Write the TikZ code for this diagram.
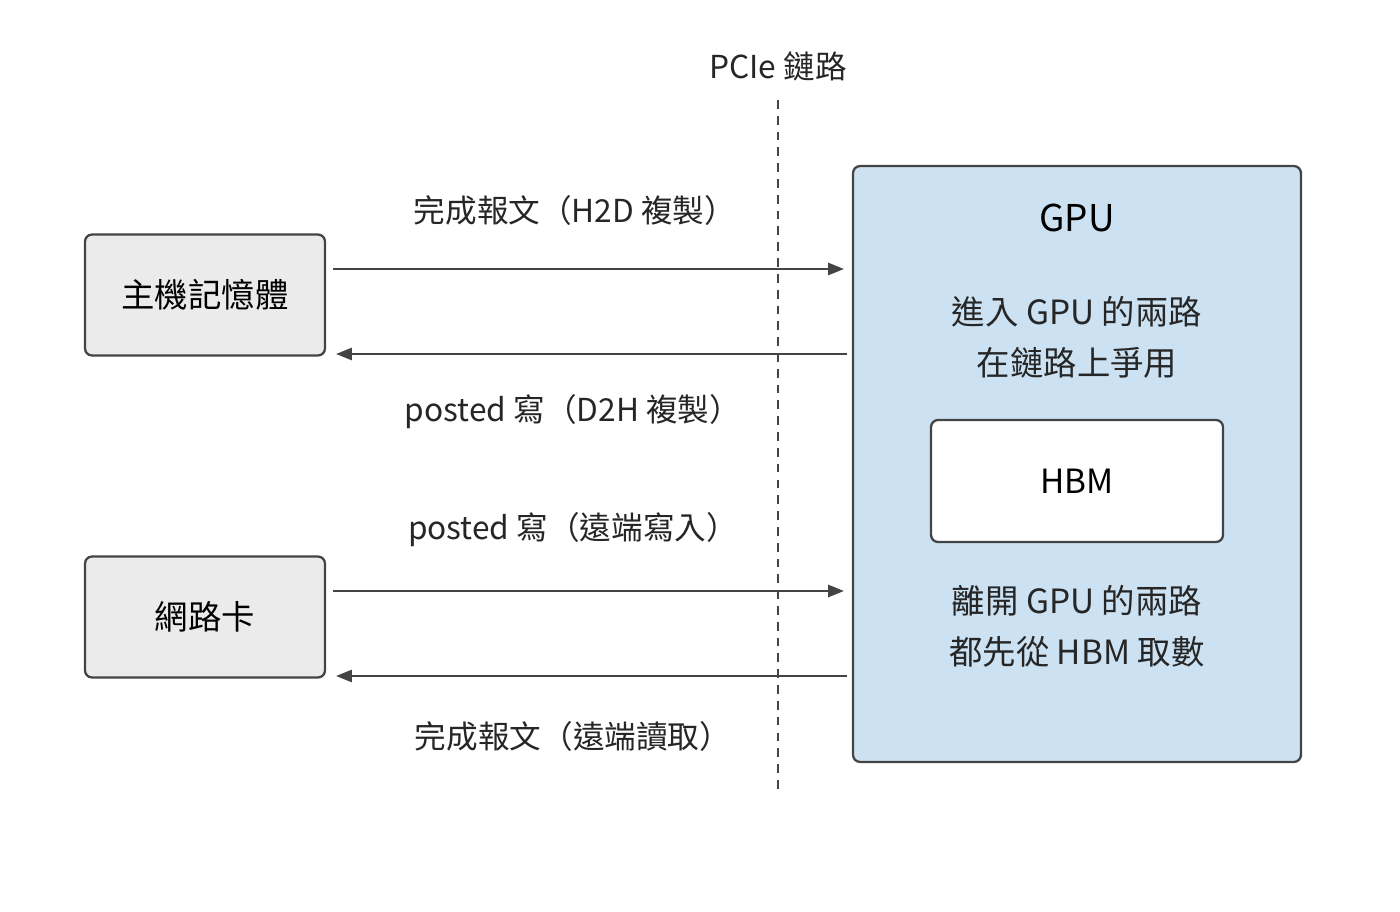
\documentclass[tikz,border=0pt]{standalone}
\usepackage{fontspec}
\setmainfont{Noto Sans CJK TC}
\usetikzlibrary{arrows.meta}
\definecolor{gpuf}{HTML}{CCE2F2}
\definecolor{boxf}{HTML}{EBEBEB}
\definecolor{ln}{HTML}{444444}
\begin{document}
\begin{tikzpicture}[x=0.02cm,y=-0.02cm,
  box/.style={draw=ln,line width=1.3pt,rounded corners=4pt,inner sep=0pt,font=\fontsize{19}{23}\selectfont},
  arr/.style={draw=ln,line width=1.1pt,-{Triangle[length=9pt,width=7pt]}},
  lbl/.style={font=\fontsize{18}{22}\selectfont,text=black!85}]
\useasboundingbox (0,0) rectangle (1400,912);
\node[lbl] (pcie) at (778,66) {PCIe 鏈路};
\coordinate (dtop) at (778,100);
\coordinate (dbot) at (778,795);
\draw[ln,dashed,line width=1.1pt,dash pattern=on 5pt off 4pt] (dtop) -- (dbot);
\node[box,fill=boxf,minimum width=4.8cm,minimum height=2.42cm] (host) at (205,295) {主機記憶體};
\node[box,fill=boxf,minimum width=4.8cm,minimum height=2.42cm] (nic) at (205,617) {網路卡};
\node[box,fill=gpuf,minimum width=8.96cm,minimum height=11.92cm] (gpu) at (1077,464) {};
\node[font=\fontsize{21}{25}\selectfont] (gt) at (1077,218) {GPU};
\node[lbl,align=center,font=\fontsize{19}{29}\selectfont] (gin) at (1077,337) {進入 GPU 的兩路\\在鏈路上爭用};
\node[box,fill=white,minimum width=5.84cm,minimum height=2.44cm] (hbm) at (1077,481) {HBM};
\node[lbl,align=center,font=\fontsize{19}{29}\selectfont] (gout) at (1077,626) {離開 GPU 的兩路\\都先從 HBM 取數};
\coordinate (g1) at (gpu.west |- 0,269);
\coordinate (g2) at (gpu.west |- 0,354);
\coordinate (g3) at (gpu.west |- 0,591);
\coordinate (g4) at (gpu.west |- 0,676);
\draw[arr,shorten <=7*0.02cm,shorten >=8*0.02cm] (host.east |- g1) -- (g1);
\draw[arr,shorten <=5*0.02cm,shorten >=10*0.02cm] (g2) -- (host.east |- g2);
\draw[arr,shorten <=7*0.02cm,shorten >=8*0.02cm] (nic.east |- g3) -- (g3);
\draw[arr,shorten <=5*0.02cm,shorten >=10*0.02cm] (g4) -- (nic.east |- g4);
\node[lbl] (l1) at (575,210) {完成報文（H2D 複製）};
\node[lbl] (l2) at (573,412) {posted 寫（D2H 複製）};
\node[lbl] (l3) at (573,530) {posted 寫（遠端寫入）};
\node[lbl] (l4) at (573,736) {完成報文（遠端讀取）};
\end{tikzpicture}
\end{document}
